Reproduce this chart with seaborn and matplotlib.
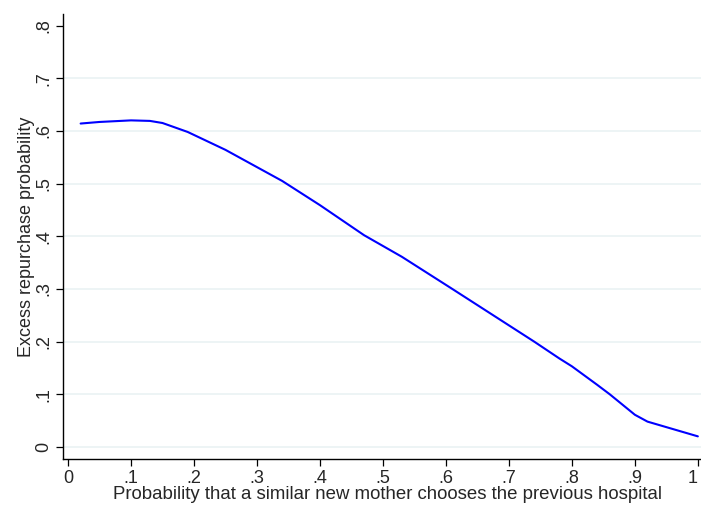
import pandas as pd
import matplotlib
matplotlib.use('Agg')
import matplotlib.pyplot as plt
import seaborn as sns

prob_prev = [0.02, 0.05, 0.10, 0.13, 0.15, 0.19, 0.25, 0.34, 0.40, 0.47, 0.53, 0.61,
             0.74, 0.78, 0.80, 0.84, 0.86, 0.90, 0.92, 0.96, 1.00]
excess = [0.614, 0.617, 0.620, 0.619, 0.615, 0.598, 0.564, 0.505, 0.459, 0.402, 0.361,
          0.300, 0.200, 0.168, 0.153, 0.118, 0.100, 0.061, 0.048, 0.034, 0.020]
xticks = [0, .1, .2, .3, .4, .5, .6, .7, .8, .9, 1]
xlabels = ['0', '.1', '.2', '.3', '.4', '.5', '.6', '.7', '.8', '.9', '1']
yticks = [0, .1, .2, .3, .4, .5, .6, .7, .8]
ylabels = ['0', '.1', '.2', '.3', '.4', '.5', '.6', '.7', '.8']

sns.set_style('white')
plt.rcParams['font.family'] = ['Liberation Sans', 'DejaVu Sans']

data = pd.DataFrame({'x': prob_prev, 'y': excess})

fig = plt.figure(figsize=(7.01, 5.05), dpi=100)
ax = fig.add_axes([63 / 701, 46 / 505, 638 / 701, 445 / 505])

for v in yticks[:-1]:
    ax.axhline(v, color='#eaf2f3', linewidth=1.2, zorder=0)

sns.lineplot(data=data, x='x', y='y', color='#0000ff', linewidth=1.5, ax=ax)

fs = 13
ax.set_xlim(-0.008, 1.005)
ax.set_ylim(-0.023, 0.822)
ax.set_xticks(xticks)
ax.set_xticklabels(xlabels, fontsize=fs)
ax.set_yticks(yticks)
ax.set_yticklabels(ylabels, fontsize=fs, rotation=90, va='center')
ax.tick_params(axis='both', direction='out', length=5, width=0.9, color='black',
               bottom=True, left=True, pad=3)
# last x tick label sits at the figure edge
ax.get_xticklabels()[-1].set_ha('right')
ax.get_xticklabels()[-1].set_x(1.0)

ax.set_xlabel('Probability that a similar new mother chooses the previous hospital',
              fontsize=13.4, va='bottom')
ax.xaxis.set_label_coords(0.509, -0.099)
ax.set_ylabel('Excess repurchase probability', fontsize=fs, labelpad=0)

for side in ['top', 'right']:
    ax.spines[side].set_visible(False)
for side in ['left', 'bottom']:
    ax.spines[side].set_color('black')
    ax.spines[side].set_linewidth(1.0)

fig.savefig('out.png', dpi=100)
